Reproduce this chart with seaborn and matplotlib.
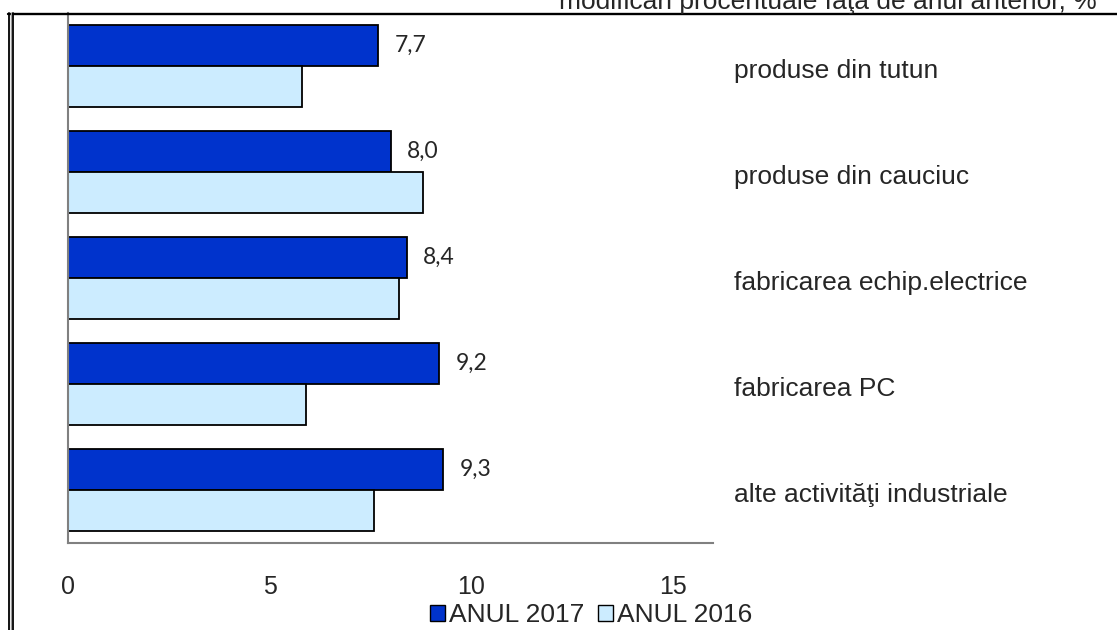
import seaborn as sns
import matplotlib.pyplot as plt
import pandas as pd
from matplotlib.lines import Line2D

# Date: modificari procentuale fata de anul anterior
categories = ["produse din tutun", "produse din cauciuc", "fabricarea echip.electrice",
              "fabricarea PC", "alte activităţi industriale"]
an_2017 = [7.7, 8.0, 8.4, 9.2, 9.3]
an_2016 = [5.8, 8.8, 8.2, 5.9, 7.6]
series = ["ANUL 2017", "ANUL 2016"]
x_ticks = [0, 5, 10, 15]

sns.set_theme(style="white")
plt.rcParams["font.family"] = ["Liberation Sans", "DejaVu Sans"]

df = pd.DataFrame({
    "categorie": categories * 2,
    "valoare": an_2017 + an_2016,
    "serie": [series[0]] * len(categories) + [series[1]] * len(categories),
})
culori = {"ANUL 2017": "#0033CC", "ANUL 2016": "#CCECFF"}

fig = plt.figure(figsize=(11.17, 6.30), dpi=100)
ax = fig.add_axes([68 / 1117, 87 / 630, 645 / 1117, 530 / 630])

sns.barplot(data=df, y="categorie", x="valoare", hue="serie", order=categories,
            hue_order=series, palette=culori, saturation=1,
            orient="h", width=0.77, edgecolor="black", linewidth=1.3, ax=ax, legend=False)

ax.set_xlim(0, 16)
ax.set_ylim(len(categories) - 0.5, -0.5)
ax.set_xticks(x_ticks)
ax.set_xticklabels([str(t) for t in x_ticks], fontsize=18)
ax.tick_params(axis="x", direction="out", length=6, width=1.2, color="#808080", pad=17)
ax.set_yticks([])
ax.set_xlabel("")
ax.set_ylabel("")
for s in ["top", "right"]:
    ax.spines[s].set_visible(False)
for s in ["left", "bottom"]:
    ax.spines[s].set_color("#808080")
    ax.spines[s].set_linewidth(1.5)

# etichete valori doar pentru 2017
ax.bar_label(ax.containers[0], labels=[f"{v:.1f}".replace(".", ",") for v in an_2017],
             padding=12, fontsize=16.5, family=["Lato", "DejaVu Sans"])

# numele categoriilor in dreapta
for i, c in enumerate(categories):
    ax.text(1.033, i + 0.05, c, transform=ax.get_yaxis_transform(), fontsize=19,
            ha="left", va="center")

# legenda
handles = [plt.Rectangle((0, 0), 1, 1, fc=culori[s], ec="black", lw=1) for s in series]
fig.legend(handles, series, loc="center", bbox_to_anchor=(591 / 1117, 1 - 615 / 630),
           ncol=2, frameon=False, fontsize=19, handlelength=0.57, handleheight=0.57,
           handletextpad=0.15, columnspacing=0.5, borderpad=0, borderaxespad=0)

# titlu (taiat sus)
fig.text(1097 / 1117, 1 - 8.5 / 630, "modificări procentuale faţă de anul anterior, %",
         ha="right", va="baseline", fontsize=19)

# chenar
fig.add_artist(Line2D([8 / 1117, 1], [1 - 13.5 / 630, 1 - 13.5 / 630], color="black", lw=1.7))
fig.add_artist(Line2D([8.5 / 1117, 8.5 / 1117], [0, 1 - 12.5 / 630], color="black", lw=1.3))
fig.add_artist(Line2D([10.5 / 1117, 10.5 / 1117], [0, 1 - 13 / 630], color="#999999", lw=1))
fig.add_artist(Line2D([12.5 / 1117, 12.5 / 1117], [0, 1 - 13 / 630], color="black", lw=1.3))

fig.savefig("out.png", dpi=100)
